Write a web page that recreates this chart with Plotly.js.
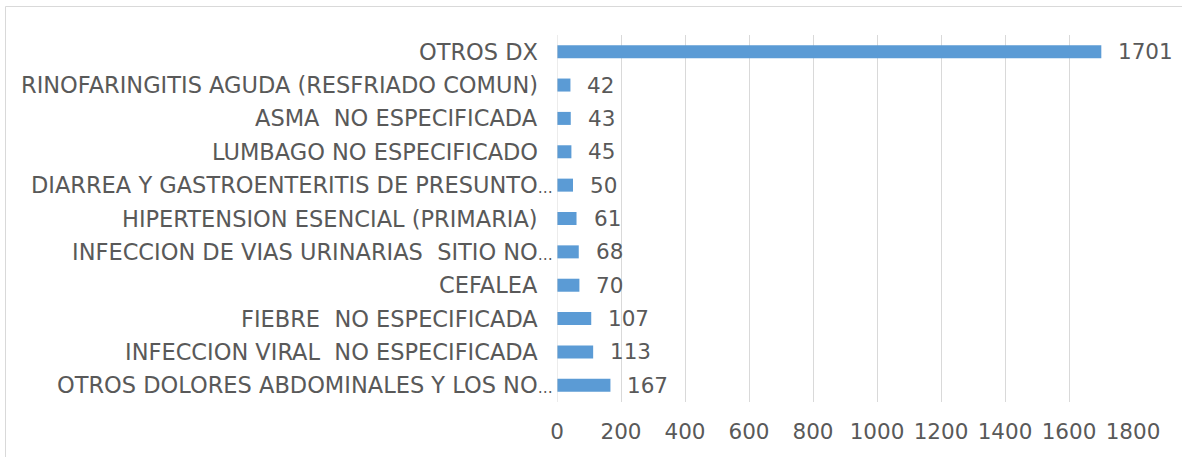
<!DOCTYPE html>
<html>
<head>
<meta charset="utf-8">
<script src="https://cdn.plot.ly/plotly-3.0.1.min.js"></script>
<style>
html,body{margin:0;padding:0;background:#fff;}
#chart{width:1182px;height:457px;}
</style>
</head>
<body>
<div id="chart"></div>
<script>
// Categories listed bottom to top
var categories = [
  "OTROS DOLORES ABDOMINALES Y LOS NO\u2026",
  "INFECCION VIRAL\u00a0 NO ESPECIFICADA",
  "FIEBRE\u00a0 NO ESPECIFICADA",
  "CEFALEA",
  "INFECCION DE VIAS URINARIAS\u00a0 SITIO NO\u2026",
  "HIPERTENSION ESENCIAL (PRIMARIA)",
  "DIARREA Y GASTROENTERITIS DE PRESUNTO\u2026",
  "LUMBAGO NO ESPECIFICADO",
  "ASMA\u00a0 NO ESPECIFICADA",
  "RINOFARINGITIS AGUDA (RESFRIADO COMUN)",
  "OTROS DX"
];
var values = [167, 113, 107, 70, 68, 61, 50, 45, 43, 42, 1701];
var tickValues = [0, 200, 400, 600, 800, 1000, 1200, 1400, 1600, 1800];

var font = "'DejaVu Sans', Verdana, sans-serif";
var textColor = "#595959";

var trace = {
  type: "bar",
  orientation: "h",
  x: values,
  y: categories,
  marker: {color: "#5B9BD5"},
  hoverinfo: "none"
};

// value labels
var annotations = values.map(function(v, i){
  return {
    x: v, y: categories[i], xref: "x", yref: "y",
    text: String(v), showarrow: false, xanchor: "left", yanchor: "middle",
    xshift: 15, font: {family: font, size: 21.5, color: textColor}
  };
});

// category labels (truncated ones overhang toward the axis, like Excel)
categories.forEach(function(c){
  var truncated = c.charAt(c.length - 1) === "\u2026";
  var txt = truncated
    ? c.slice(0, -1) + '<span style="font-size:15px">\u2026</span>'
    : c;
  annotations.push({
    x: 0, y: c, xref: "paper", yref: "y",
    text: txt, showarrow: false, xanchor: "right", yanchor: "middle",
    xshift: truncated ? -2 : -17,
    font: {family: font, size: 22.5, color: textColor}
  });
});

// chart border (pixel positions converted to paper coords)
var L = 557, R = 1133, T = 35, B = 402;
function px(x){ return (x - L) / (R - L); }
function py(y){ return (B - y) / (B - T); }

var layout = {
  width: 1182, height: 457,
  margin: {l: L, r: 1182 - R, t: T, b: 457 - B, pad: 0},
  paper_bgcolor: "#fff", plot_bgcolor: "#fff",
  showlegend: false,
  bargap: 0.61,
  font: {family: font, color: textColor},
  xaxis: {
    range: [0, 1800],
    tickvals: tickValues,
    ticktext: tickValues.map(String),
    showgrid: true, gridcolor: "#D9D9D9", gridwidth: 1,
    zeroline: false, showline: false, ticks: "",
    ticklabelstandoff: 14,
    tickfont: {family: font, size: 21.5, color: textColor},
    fixedrange: true
  },
  yaxis: {
    type: "category",
    categoryorder: "array", categoryarray: categories,
    showgrid: false, zeroline: false, showline: false, ticks: "",
    showticklabels: false,
    fixedrange: true
  },
  annotations: annotations,
  shapes: [{
    type: "rect", xref: "paper", yref: "paper", layer: "below",
    x0: px(5.5), x1: px(1190), y0: py(470), y1: py(6.5),
    line: {color: "#D9D9D9", width: 1}, fillcolor: "rgba(0,0,0,0)"
  }, {
    type: "line", xref: "x", yref: "paper", x0: 0, x1: 0, y0: 0, y1: 1,
    line: {color: "#D9D9D9", width: 1}
  }]
};

Plotly.newPlot("chart", [trace], layout, {displayModeBar: false, staticPlot: true});
</script>
</body>
</html>
